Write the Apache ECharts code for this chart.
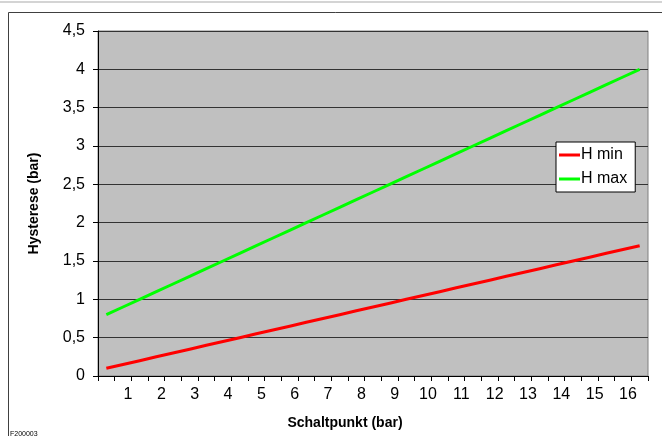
<!DOCTYPE html>
<html>
<head>
<meta charset="utf-8">
<script src="https://cdn.jsdelivr.net/npm/echarts@6/dist/echarts.min.js"></script>
<style>
  html, body { margin: 0; padding: 0; background: #fff; }
  #chart { width: 662px; height: 436px; }
</style>
</head>
<body>
<div id="chart"></div>
<script>
// Switching point (bar), one category every 0.5 bar
const schaltpunkt = [0.5, 1, 1.5, 2, 2.5, 3, 3.5, 4, 4.5, 5, 5.5, 6, 6.5, 7, 7.5, 8, 8.5,
  9, 9.5, 10, 10.5, 11, 11.5, 12, 12.5, 13, 13.5, 14, 14.5, 15, 15.5, 16, 16.5];

// Hysteresis (bar)
const hMin = [0.10, 0.15, 0.20, 0.25, 0.30, 0.35, 0.40, 0.45, 0.50, 0.55, 0.60, 0.65, 0.70,
  0.75, 0.80, 0.85, 0.90, 0.95, 1.00, 1.05, 1.10, 1.15, 1.20, 1.25, 1.30, 1.35, 1.40,
  1.45, 1.50, 1.55, 1.60, 1.65, 1.70];
const hMax = [0.8, 0.9, 1.0, 1.1, 1.2, 1.3, 1.4, 1.5, 1.6, 1.7, 1.8, 1.9, 2.0, 2.1, 2.2,
  2.3, 2.4, 2.5, 2.6, 2.7, 2.8, 2.9, 3.0, 3.1, 3.2, 3.3, 3.4, 3.5, 3.6, 3.7, 3.8, 3.9, 4.0];

const seriesNames = ['H min', 'H max'];
const xTitle = 'Schaltpunkt (bar)';
const yTitle = 'Hysterese (bar)';
const footnote = 'F200003';

const font = '"Liberation Sans", Arial, sans-serif';

const chart = echarts.init(document.getElementById('chart'), null, { renderer: 'canvas' });

chart.setOption({
  animation: false,
  backgroundColor: '#ffffff',
  textStyle: { fontFamily: font },
  graphic: [
    { type: 'line', shape: { x1: 0, y1: 2, x2: 662, y2: 2 },
      style: { stroke: '#d4d4d4', lineWidth: 2 }, silent: true },
    { type: 'polyline', shape: { points: [[8.5, 440], [8.5, 12.5], [670, 12.5]] },
      style: { stroke: '#404040', lineWidth: 1, fill: null }, silent: true },
    { type: 'text', left: 10, top: 431,
      style: { text: footnote, font: '7px ' + font, fill: '#000' }, silent: true },
    { type: 'text', x: 345, y: 423,
      style: { text: xTitle, font: 'bold 14px ' + font, fill: '#000',
               align: 'center', verticalAlign: 'middle' }, silent: true }
  ],
  grid: {
    left: 98, top: 31, right: 14, bottom: 60,
    show: true,
    backgroundColor: '#c0c0c0',
    borderColor: '#808080',
    borderWidth: 1
  },
  legend: {
    data: seriesNames,
    orient: 'vertical',
    left: 556, top: 142,
    backgroundColor: '#ffffff',
    borderColor: '#000000',
    borderWidth: 1,
    padding: [5, 8, 5, 3],
    itemGap: 8,
    itemWidth: 21,
    itemHeight: 3,
    icon: 'rect',
    textStyle: { fontFamily: font, fontSize: 16, color: '#000', padding: [0, 0, 0, -4] }
  },
  xAxis: {
    type: 'category',
    data: schaltpunkt,
    boundaryGap: true,
    axisLine: { show: true, lineStyle: { color: '#000', width: 1 } },
    axisTick: { show: true, interval: 0, length: 5, lineStyle: { color: '#000' } },
    axisLabel: {
      interval: 0,
      margin: 11,
      fontFamily: font,
      fontSize: 16,
      color: '#000',
      padding: [0, 0, 0, 10],
      formatter: function (v) {
        const n = Number(v);
        return Number.isInteger(n) ? String(n) : '';
      }
    },
    splitLine: { show: false }
  },
  yAxis: {
    type: 'value',
    min: 0, max: 4.5, interval: 0.5,
    name: yTitle,
    nameLocation: 'middle',
    nameGap: 57,
    nameRotate: 90,
    nameTextStyle: { fontFamily: font, fontSize: 14, fontWeight: 'bold', color: '#000' },
    axisLine: { show: true, lineStyle: { color: '#000', width: 1 } },
    axisTick: { show: true, length: 5, lineStyle: { color: '#000' } },
    axisLabel: {
      margin: 13,
      fontFamily: font,
      fontSize: 16,
      color: '#000',
      formatter: function (v) { return String(v).replace('.', ','); }
    },
    splitLine: { show: true, lineStyle: { color: '#333333', width: 1 } }
  },
  series: [
    { name: seriesNames[0], type: 'line', data: hMin, showSymbol: false,
      lineStyle: { color: '#ff0000', width: 3 }, itemStyle: { color: '#ff0000' } },
    { name: seriesNames[1], type: 'line', data: hMax, showSymbol: false,
      lineStyle: { color: '#00ff00', width: 3 }, itemStyle: { color: '#00ff00' } }
  ]
});
</script>
</body>
</html>
